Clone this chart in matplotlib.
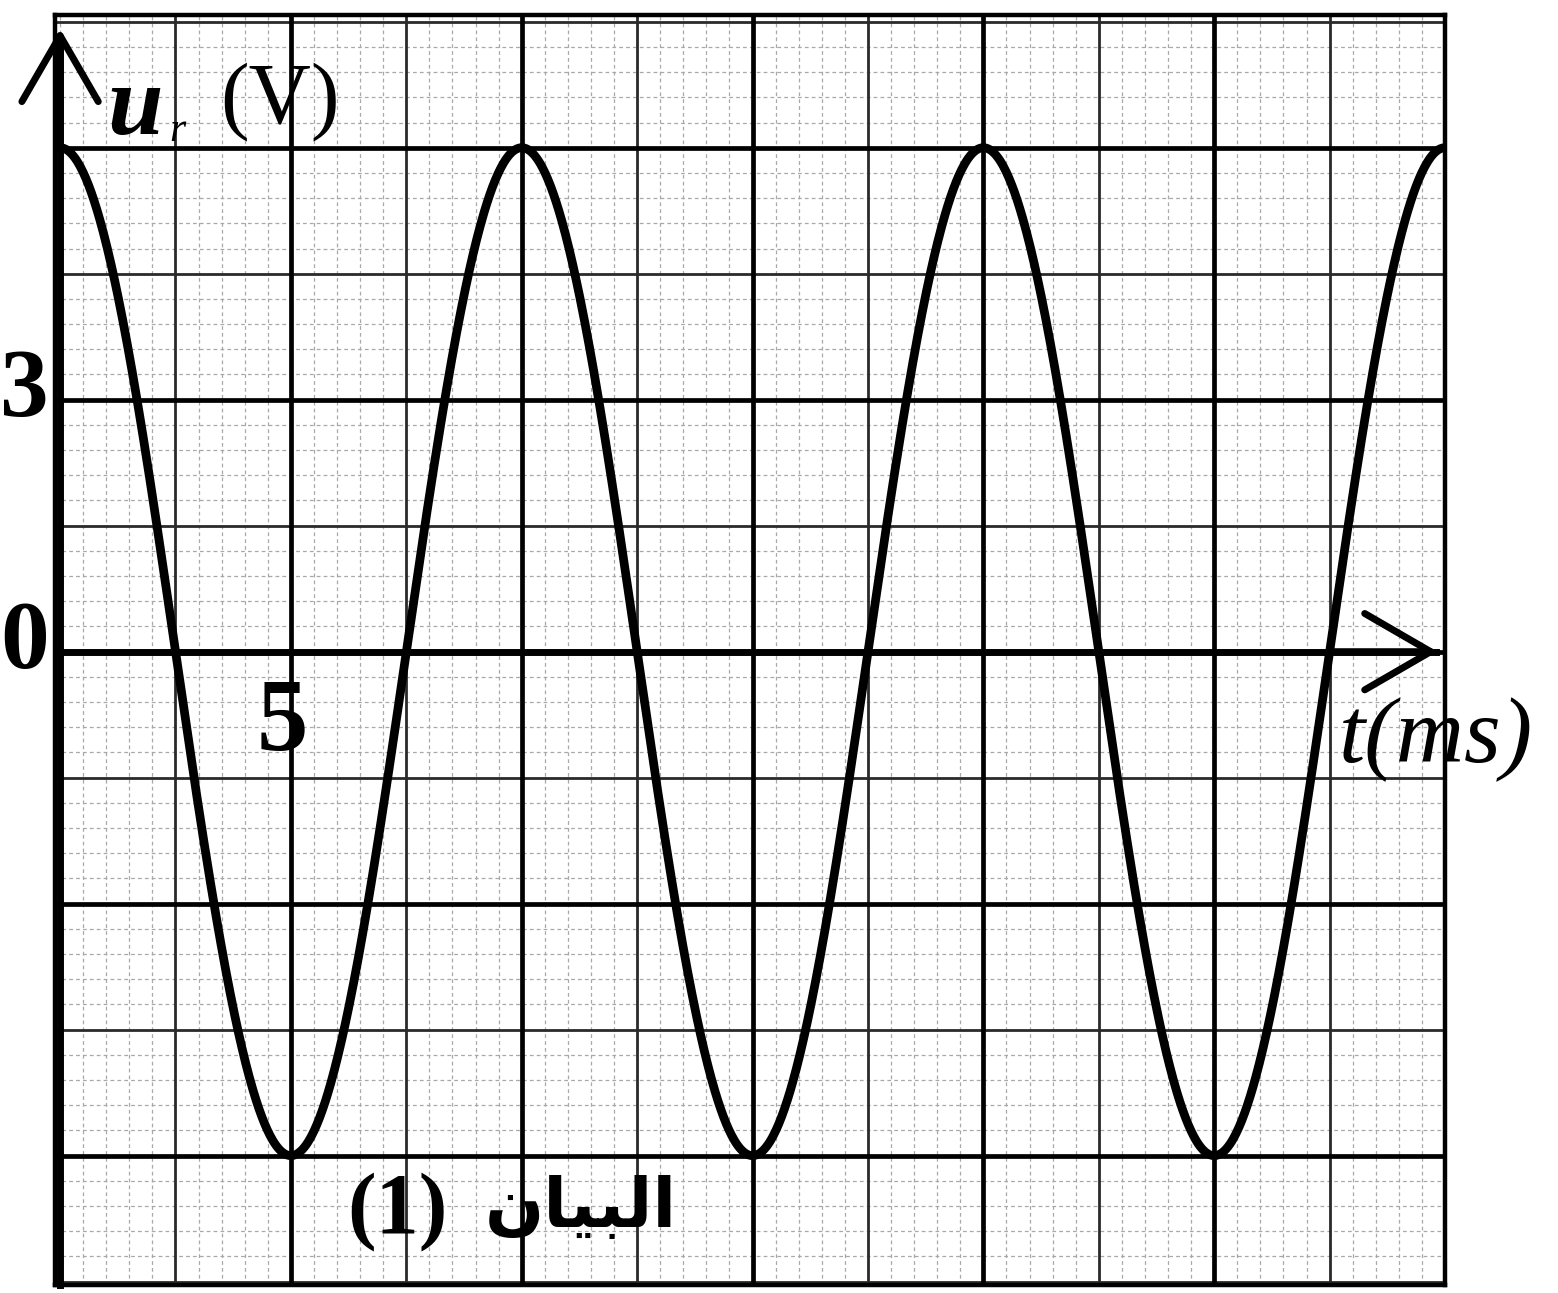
import matplotlib
matplotlib.use("Agg")
import matplotlib.pyplot as plt
import numpy as np
from matplotlib.patches import FancyArrowPatch

# signal: u_r(t) = U_max cos(2 pi t / T)
U_max = 6.0        # V (two big squares of 3 V)
T = 10.0           # ms (two big squares of 5 ms)
t_end = 30.0       # ms

x_ticklabels = {5: "5"}
y_ticklabels = {3: "3", 0: "0"}

# graph paper divisions
x_big, y_big = 5.0, 3.0
x_min, x_max = -0.11, 30.0
y_min, y_max = -7.54, 7.58

fig = plt.figure(figsize=(15.58, 12.93), dpi=100)
ax = fig.add_axes([55 / 1558, 1 - 1285 / 1293, (1445 - 55) / 1558, (1285 - 15) / 1293])
ax.set_xlim(x_min, x_max)
ax.set_ylim(y_min, y_max)
ax.set_xticks([])
ax.set_yticks([])
for s in ax.spines.values():
    s.set_linewidth(3.2)
    s.set_color("black")

# fine millimetre lines
for x in np.arange(0, x_max + 0.01, x_big / 10):
    ax.axvline(x, color="#a8a8a8", lw=0.9, ls=(0, (3, 2.5)), zorder=1)
for y in np.arange(-7.5, 7.51, y_big / 10):
    ax.axhline(y, color="#a8a8a8", lw=0.9, ls=(0, (3, 2.5)), zorder=1)
# half-square lines
for x in np.arange(x_big / 2, x_max + 0.01, x_big):
    ax.axvline(x, color="#2a2a2a", lw=2.0, zorder=2)
for y in np.arange(-7.5, 7.51, y_big):
    ax.axhline(y, color="#2a2a2a", lw=2.0, zorder=2)
# big squares
for x in np.arange(x_big, x_max + 0.01, x_big):
    ax.axvline(x, color="black", lw=3.4, zorder=3)
for y in np.arange(-6, 6.01, y_big):
    ax.axhline(y, color="black", lw=3.4, zorder=3)

# the curve
t = np.linspace(0, t_end, 1500)
u = U_max * np.cos(2 * np.pi * t / T)
ax.plot(t, u, color="black", lw=6.3, zorder=5, solid_capstyle="round")

# axes with open arrow heads
ax.plot([0, 0], [y_min, 7.3], color="black", lw=5.0, zorder=6, clip_on=False)
ax.add_patch(FancyArrowPatch((0, 6.0), (0, 7.45), arrowstyle="->,head_length=0.95,head_width=0.55",
                             mutation_scale=50, lw=5.0, color="black", zorder=6, clip_on=False))
ax.plot([x_min, 29.8], [0, 0], color="black", lw=5.0, zorder=6)
ax.add_patch(FancyArrowPatch((27.5, 0), (29.9, 0), arrowstyle="->,head_length=0.95,head_width=0.55",
                             mutation_scale=50, lw=5.0, color="black", zorder=6, clip_on=False))

serif = "Liberation Serif"
for yv, lab in y_ticklabels.items():
    ax.text(-0.25, yv + 0.08, lab, ha="right", va="center", fontsize=70, fontweight="bold",
            family=serif, clip_on=False, zorder=7)
for xv, lab in x_ticklabels.items():
    ax.text(xv - 0.19, -0.87, lab, ha="center", va="center", fontsize=74, fontweight="bold",
            family=serif, zorder=7)

# axis titles
ax.text(1.62, 6.45, "u", ha="center", va="center", fontsize=72, fontweight="bold",
        style="italic", family=serif, zorder=7)
ax.text(2.55, 6.2, "r", ha="center", va="center", fontsize=30, style="italic",
        family=serif, zorder=7)
ax.text(4.77, 6.55, "(V)", ha="center", va="center", fontsize=62, family=serif, zorder=7)
ax.text(27.7, -1.05, "t(ms)", ha="left", va="center", fontsize=68, style="italic",
        family=serif, clip_on=False, zorder=7)

# graph caption
ax.text(7.3, -6.67, "(1)", ha="center", va="center", fontsize=62, fontweight="bold",
        family=serif, zorder=7)
caption = "\ufee5\ufe8e\ufef4\ufe92\ufedf\ufe8d"
ax.text(11.27, -6.62, caption, ha="center", va="center", fontsize=50, fontweight="bold",
        family="DejaVu Sans", zorder=7)

fig.savefig("out.png", dpi=100, facecolor="white")
